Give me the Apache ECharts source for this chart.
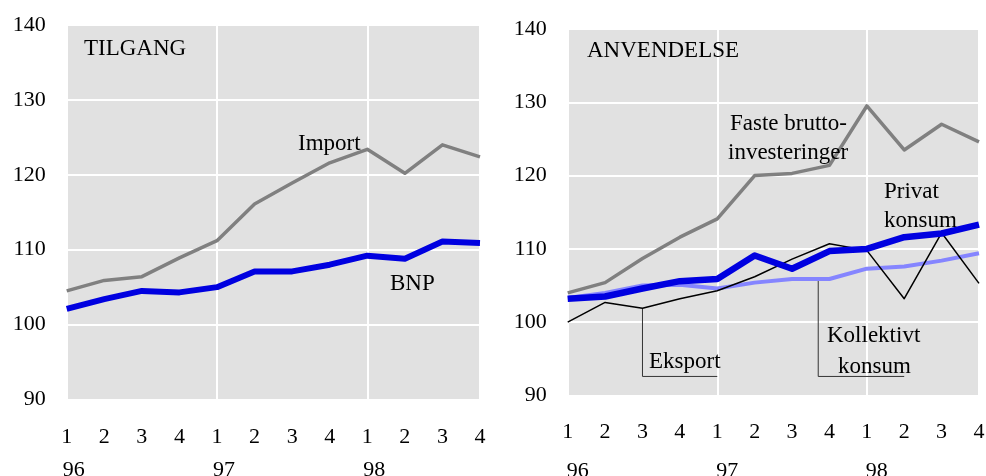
<!DOCTYPE html>
<html>
<head>
<meta charset="utf-8">
<script src="https://cdn.jsdelivr.net/npm/echarts@6/dist/echarts.min.js"></script>
<style>html,body{margin:0;padding:0;background:#fff}#c{width:986px;height:476px}</style>
</head>
<body>
<div id="c"></div>
<script>
// ---- data ----
var quarters = ['1','2','3','4','1','2','3','4','1','2','3','4'];
var years = ['96','97','98'];          // at quarter index 0, 4, 8
var yTicks = [90, 100, 110, 120, 130, 140];

// TILGANG
var importVals = [104.5, 105.9, 106.4, 108.9, 111.2, 116.1, 118.9, 121.6, 123.4, 120.2, 124.0, 122.4];
var bnpVals    = [102.1, 103.4, 104.5, 104.3, 105.0, 107.1, 107.1, 108.0, 109.2, 108.8, 111.1, 110.9];

// ANVENDELSE
var fasteVals      = [104.0, 105.4, 108.7, 111.6, 114.1, 120.0, 120.3, 121.4, 129.5, 123.5, 127.0, 124.6];
var privatVals     = [103.2, 103.5, 104.6, 105.6, 105.9, 109.1, 107.3, 109.7, 110.0, 111.6, 112.1, 113.3];
var kollektivVals  = [103.3, 104.0, 105.0, 105.1, 104.6, 105.4, 105.9, 105.9, 107.3, 107.6, 108.4, 109.4];
var eksportVals    = [100.0, 102.7, 101.9, 103.2, 104.3, 106.2, 108.6, 110.7, 109.8, 103.2, 112.2, 105.3];

// leader lines (quarter index, value)
var eksportLeader   = [[2, 101.9], [2, 92.6], [4, 92.6]];
var kollektivLeader = [[6.7, 105.9], [6.7, 92.6], [9, 92.6]];

// ---- build ----
function pts(arr){ return arr.map(function(v,i){ return [i, v]; }); }
var FONT = 'Liberation Serif, Times New Roman, serif';
var yearIdx = {0: years[0], 4: years[1], 8: years[2]};

function yAxis(gi){
  return {
    gridIndex: gi, type: 'value', min: yTicks[0], max: yTicks[yTicks.length-1], interval: 10,
    axisLine: {show: false}, axisTick: {show: false},
    axisLabel: {color: '#000', fontFamily: FONT, fontSize: 22, margin: 21},
    splitLine: {lineStyle: {color: '#ffffff', width: 2}}
  };
}
function qAxis(gi, margin){
  return {
    gridIndex: gi, type: 'value', min: 0, max: quarters.length - 1, interval: 1,
    axisLine: {show: false}, axisTick: {show: false}, splitLine: {show: false},
    axisLabel: {color: '#000', fontFamily: FONT, fontSize: 22, margin: margin,
      formatter: function(v){ return quarters[v] || ''; }}
  };
}
function yrAxis(gi, margin, shift){
  return {
    gridIndex: gi, type: 'value', min: 0, max: quarters.length - 1, interval: 4,
    position: 'bottom',
    axisLine: {show: false}, axisTick: {show: false},
    splitLine: {show: true, lineStyle: {color: '#ffffff', width: 2}},
    axisLabel: {color: '#000', fontFamily: FONT, fontSize: 22, margin: margin,
      padding: [0, 0, 0, shift], showMinLabel: true, showMaxLabel: true,
      formatter: function(v){ return yearIdx[v] || ''; }}
  };
}
function line(name, xi, yi, arr, color, width, z){
  return {name: name, type: 'line', xAxisIndex: xi, yAxisIndex: yi, data: pts(arr),
    symbol: 'none', silent: true, z: z,
    lineStyle: {color: color, width: width, join: 'round'}};
}
function leader(xi, yi, data){
  return {type: 'line', xAxisIndex: xi, yAxisIndex: yi, data: data, symbol: 'none', silent: true, z: 1,
    lineStyle: {color: '#333', width: 1}};
}
function txt(x, y, s, size){
  return {type: 'text', left: x, top: y - 13, silent: true, z: 100,
    style: {text: s, fill: '#000', font: (size || 23) + 'px ' + FONT}};
}

var chart = echarts.init(document.getElementById('c'), null, {renderer: 'canvas'});
chart.setOption({
  animation: false,
  backgroundColor: '#ffffff',
  grid: [
    {left: 66.7, top: 25, width: 413.3, height: 374.5, show: true, backgroundColor: '#e1e1e1', borderWidth: 0,
     containLabel: false, outerBoundsMode: 'none'},
    {left: 567.7, top: 29, width: 411.3, height: 366.5, show: true, backgroundColor: '#e1e1e1', borderWidth: 0,
     containLabel: false, outerBoundsMode: 'none'}
  ],
  xAxis: [qAxis(0, 27), yrAxis(0, 60, 14), qAxis(1, 26), yrAxis(1, 65, 20)],
  yAxis: [yAxis(0), yAxis(1)],
  series: [
    line('Import', 0, 0, importVals, '#808080', 3.5, 3),
    line('BNP', 0, 0, bnpVals, '#0000e0', 6, 4),
    leader(2, 1, eksportLeader),
    leader(2, 1, kollektivLeader),
    line('Faste bruttoinvesteringer', 2, 1, fasteVals, '#808080', 3.5, 3),
    line('Kollektivt konsum', 2, 1, kollektivVals, '#8585ff', 4, 3),
    line('Eksport', 2, 1, eksportVals, '#000000', 1.5, 4),
    line('Privat konsum', 2, 1, privatVals, '#0000e0', 6.5, 5)
  ],
  graphic: [
    txt(84, 50, 'TILGANG'),
    txt(298, 145, 'Import'),
    txt(390, 285, 'BNP'),
    txt(587, 52, 'ANVENDELSE'),
    txt(730, 125, 'Faste brutto-'),
    txt(728, 154, 'investeringer'),
    txt(884, 193, 'Privat'),
    txt(884, 222, 'konsum'),
    txt(649, 363, 'Eksport'),
    txt(827, 337, 'Kollektivt'),
    txt(838, 368, 'konsum')
  ]
});
</script>
</body>
</html>
